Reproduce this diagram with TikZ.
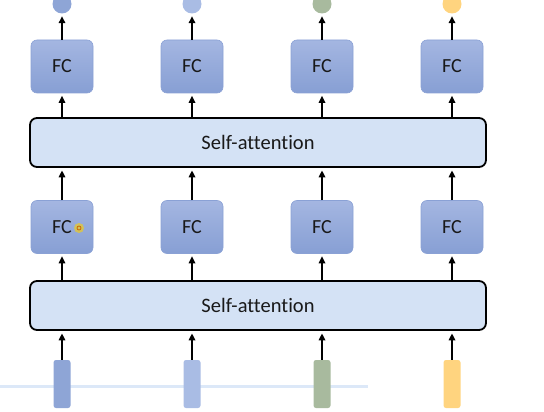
\documentclass[tikz,border=0pt]{standalone}
\usepackage{fontspec}
\setmainfont{Carlito}[Ligatures=NoCommon]
\usetikzlibrary{positioning,arrows.meta}

\definecolor{fctop}{HTML}{A4B6E1}
\definecolor{fcbot}{HTML}{879FD4}
\definecolor{fcedge}{HTML}{8AA1D5}
\definecolor{attfill}{HTML}{D4E2F5}
\definecolor{vecA}{HTML}{8EA5D6}
\definecolor{vecB}{HTML}{A9BCE4}
\definecolor{vecC}{HTML}{A8BA9E}
\definecolor{vecD}{HTML}{FFD47F}
\definecolor{stray}{HTML}{DCE8F8}

\tikzset{
	fcbox/.style={draw=fcedge, line width=0.6pt, rounded corners=6pt, top color=fctop, bottom color=fcbot,
		minimum width=62pt, minimum height=53pt, inner sep=0pt, text=black!90, font=\fontsize{20}{20}\selectfont},
	attbox/.style={draw=black, line width=1.8pt, rounded corners=7pt, fill=attfill,
		minimum width=456pt, minimum height=49pt, inner sep=0pt, text=black!90, font=\fontsize{20.5}{20.5}\selectfont},
	invec/.style={rounded corners=2.5pt, minimum width=17pt, minimum height=48pt, inner sep=0pt},
	outvec/.style={circle, minimum size=19pt, inner sep=0pt},
	up/.style={-{Triangle[length=7pt,width=6.5pt]}, line width=1.6pt, shorten >=2.5pt}
}

\begin{document}
\begin{tikzpicture}[x=1pt,y=-1pt]
		\useasboundingbox (0,0) rectangle (544,412);
		% stray line of the screenshot
		\draw[stray, line width=3pt] (0,386) -- (368,386);
		% inputs
		\node[invec, fill=vecA] (x1) at (62,384) {};
		\node[invec, fill=vecB] (x2) at (192,384) {};
		\node[invec, fill=vecC] (x3) at (322,384) {};
		\node[invec, fill=vecD] (x4) at (452,384) {};
		% first block
		\node[attbox] (att1) at (258,305.5) {Self-attention};
		\node[fcbox] (fc1) at (62,227) {FC};
		\node[fcbox] (fc2) at (192,227) {FC};
		\node[fcbox] (fc3) at (322,227) {FC};
		\node[fcbox] (fc4) at (452,227) {FC};
		% second block
		\node[attbox] (att2) at (258,142.5) {Self-attention};
		\node[fcbox] (fd1) at (62,66.5) {FC};
		\node[fcbox] (fd2) at (192,66.5) {FC};
		\node[fcbox] (fd3) at (322,66.5) {FC};
		\node[fcbox] (fd4) at (452,66.5) {FC};
		% outputs
		\node[outvec, fill=vecA] (y1) at (62,4) {};
		\node[outvec, fill=vecB] (y2) at (192,4) {};
		\node[outvec, fill=vecC] (y3) at (322,4) {};
		\node[outvec, fill=vecD] (y4) at (452,4) {};
		% arrows
		\draw[up] (x1.north) -- (x1.north |- att1.south);
		\draw[up] (x2.north) -- (x2.north |- att1.south);
		\draw[up] (x3.north) -- (x3.north |- att1.south);
		\draw[up] (x4.north) -- (x4.north |- att1.south);
		\draw[up] (fc1.south |- att1.north) -- (fc1.south);
		\draw[up] (fc2.south |- att1.north) -- (fc2.south);
		\draw[up] (fc3.south |- att1.north) -- (fc3.south);
		\draw[up] (fc4.south |- att1.north) -- (fc4.south);
		\draw[up] (fc1.north) -- (fc1.north |- att2.south);
		\draw[up] (fc2.north) -- (fc2.north |- att2.south);
		\draw[up] (fc3.north) -- (fc3.north |- att2.south);
		\draw[up] (fc4.north) -- (fc4.north |- att2.south);
		\draw[up] (fd1.south |- att2.north) -- (fd1.south);
		\draw[up] (fd2.south |- att2.north) -- (fd2.south);
		\draw[up] (fd3.south |- att2.north) -- (fd3.south);
		\draw[up] (fd4.south |- att2.north) -- (fd4.south);
		\draw[up] (fd1.north) -- (y1.south);
		\draw[up] (fd2.north) -- (y2.south);
		\draw[up] (fd3.north) -- (y3.south);
		\draw[up] (fd4.north) -- (y4.south);
		% cursor mark
		\fill[yellow!70!orange, opacity=0.6] (79,228) circle (5pt);
		\draw[orange!80!black, line width=0.8pt] (79,228) circle (2pt);
	\end{tikzpicture}
\end{document}
